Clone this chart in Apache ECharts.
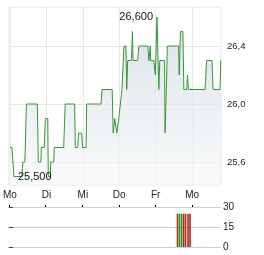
<!DOCTYPE html>
<html><head><meta charset="utf-8">
<script src="https://cdn.jsdelivr.net/npm/echarts@6/dist/echarts.min.js"></script>
<style>html,body{margin:0;padding:0;background:#fff}#c{width:264px;height:255px}</style>
</head><body><div id="c"></div><script>
const dayLabels = ['Mo', 'Di', 'Mi', 'Do', 'Fr', 'Mo'];
const dayTicks = [0, 1, 2, 3, 4, 5];
const priceTicks = [25.6, 26.0, 26.4];
// time in trading days from first Monday
const tradeTimes = [0, 0.055, 0.082, 0.109, 0.328, 0.355, 0.410, 0.451, 0.751, 0.779, 0.847, 0.861, 0.943, 0.970, 1.038, 1.052, 1.107, 1.120, 1.202, 1.216, 1.475, 1.516, 1.776, 1.795, 1.858, 1.885, 1.967, 1.995, 2.090, 2.104, 2.500, 2.527, 2.806, 2.833, 2.869, 2.877, 2.923, 2.932, 2.978, 2.986, 3.019, 3.074, 3.101, 3.128, 3.183, 3.205, 3.232, 3.333, 3.361, 3.380, 3.505, 3.538, 3.784, 3.811, 3.839, 3.852, 3.861, 3.948, 3.989, 4.036, 4.085, 4.112, 4.243, 4.257, 4.276, 4.303, 4.317, 4.626, 4.645, 4.680, 4.746, 4.773, 4.850, 4.872, 4.899, 5.355, 5.396, 5.546, 5.574, 5.765, 5.784];
const prices = [25.7, 25.7, 25.6, 25.5, 25.5, 25.6, 25.6, 26.0, 26.0, 25.6, 25.6, 25.7, 25.7, 25.9, 25.9, 25.5, 25.5, 25.6, 25.6, 25.7, 25.7, 26.0, 26.0, 25.7, 25.7, 25.8, 25.8, 25.7, 25.7, 26.0, 26.0, 26.1, 26.1, 25.8, 25.8, 25.9, 25.9, 25.8, 25.8, 25.9, 25.9, 26.1, 26.1, 26.4, 26.4, 26.1, 26.3, 26.3, 26.5, 26.3, 26.3, 26.4, 26.4, 26.3, 26.3, 26.4, 26.3, 26.3, 26.2, 26.6, 26.1, 26.3, 26.3, 25.8, 25.8, 26.2, 26.4, 26.4, 26.2, 26.5, 26.5, 26.1, 26.1, 26.2, 26.1, 26.1, 26.3, 26.3, 26.1, 26.1, 26.3];
const volumeTicks = [0, 15, 30];
const volTimes = [4.604, 4.658, 4.713, 4.768, 4.822, 4.891, 4.945];
const volumes = [25, 25, 25, 25, 25, 25, 25];
const volDirection = ['down', 'up', 'up', 'down', 'down', 'down', 'down'];

const FONT = 'Arial, "Liberation Sans", sans-serif';
const fmt = (v, d) => v.toFixed(d).replace('.', ',');
const XMIN = -0.0273, XMAX = 5.792;

const chart = echarts.init(document.getElementById('c'));
chart.setOption({
  animation: false,
  textStyle: { fontFamily: FONT },
  grid: [
    { left: 8, right: 43, top: 7, height: 178, show: true, borderColor: '#e6e6e6', borderWidth: 1 },
    { left: 8, right: 43, top: 207, height: 40 }
  ],
  xAxis: [
    {
      type: 'value', gridIndex: 0, min: XMIN, max: XMAX,
      axisLine: { show: false, onZero: false },
      axisTick: { show: false, customValues: dayTicks },
      axisLabel: { customValues: dayTicks, margin: 5, fontSize: 10, color: '#222',
        formatter: (v) => dayLabels[Math.round(v)] },
      splitLine: { show: true, lineStyle: { color: '#e8e8e8', width: 1 } }
    },
    {
      type: 'value', gridIndex: 1, min: XMIN, max: XMAX, position: 'top',
      axisLine: { show: false, onZero: false },
      axisTick: { show: true, customValues: dayTicks, length: 2, lineStyle: { color: '#000' } },
      axisLabel: { show: false, customValues: dayTicks },
      splitLine: { show: false }
    }
  ],
  yAxis: [
    {
      type: 'value', gridIndex: 0, position: 'right', min: 25.4414, max: 26.669,
      axisLine: { show: false },
      axisTick: { show: false, customValues: priceTicks },
      axisLabel: { customValues: priceTicks, margin: 6, fontSize: 9.5, color: '#222',
        formatter: (v) => fmt(v, 1) },
      splitLine: { show: true, lineStyle: { color: '#e6e6e6' } }
    },
    {
      type: 'value', gridIndex: 1, position: 'right', min: 0, max: 30, interval: 15,
      axisLine: { show: false },
      axisTick: { show: true, length: 4, lineStyle: { color: '#444' } },
      axisLabel: { margin: 2, fontSize: 10, color: '#222' },
      splitLine: { show: true, lineStyle: { color: '#cccccc' } }
    }
  ],
  series: [
    {
      type: 'line', xAxisIndex: 0, yAxisIndex: 0,
      data: tradeTimes.map((t, i) => [t, prices[i]]),
      showSymbol: false, symbol: 'none',
      lineStyle: { color: '#389438', width: 1 },
      areaStyle: {
        origin: 'start',
        color: new echarts.graphic.LinearGradient(0, 0, 0, 1, [
          { offset: 0, color: '#cdd6df' },
          { offset: 1, color: '#f6f8f9' }
        ])
      },
      markPoint: {
        symbol: 'circle', symbolSize: 0,
        label: { show: true, color: '#111', fontSize: 11, fontFamily: FONT,
          formatter: (p) => fmt(p.value, 3) },
        data: [
          { type: 'max', valueDim: 'y', label: { position: 'left', distance: 4 } },
          { type: 'min', valueDim: 'y', label: { position: 'right', distance: 4 } }
        ]
      }
    },
    {
      type: 'bar', xAxisIndex: 1, yAxisIndex: 1, barWidth: 1.6,
      data: volTimes.map((t, i) => ({
        value: [t, volumes[i]],
        itemStyle: { color: volDirection[i] === 'up' ? '#1f9a1f' : '#b3261e' }
      }))
    }
  ]
});
</script></body></html>
